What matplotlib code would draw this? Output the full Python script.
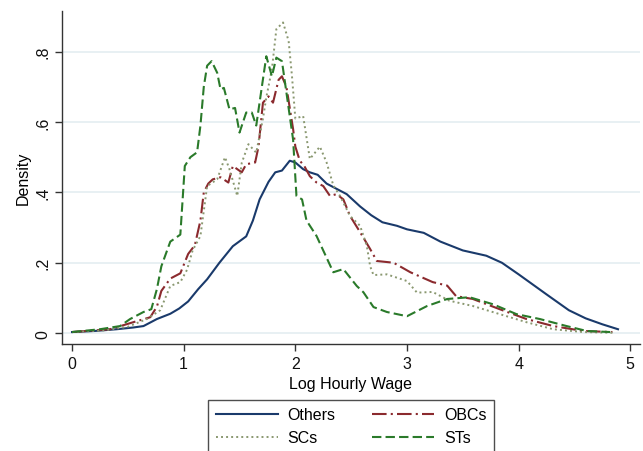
import numpy as np
import matplotlib
matplotlib.use("Agg")
import matplotlib.pyplot as plt

plt.rcParams['font.family'] = ['Liberation Sans', 'DejaVu Sans']

# kernel density curves
others_x = [0, 0.2, 0.4, 0.55, 0.64, 0.76, 0.88, 0.96, 1.04, 1.13, 1.21, 1.32, 1.44, 1.56,
            1.62, 1.68, 1.76, 1.82, 1.88, 1.95, 2.0, 2.07, 2.13, 2.2, 2.28, 2.37, 2.46, 2.58,
            2.68, 2.78, 2.91, 3.0, 3.15, 3.3, 3.5, 3.71, 3.85, 4.0, 4.25, 4.45, 4.6, 4.75, 4.89]
others_y = [0.003, 0.006, 0.011, 0.016, 0.02, 0.04, 0.055, 0.07, 0.09, 0.125, 0.153, 0.20,
            0.247, 0.275, 0.32, 0.38, 0.43, 0.457, 0.462, 0.49, 0.485, 0.466, 0.457, 0.45,
            0.425, 0.41, 0.395, 0.36, 0.335, 0.315, 0.305, 0.295, 0.285, 0.26, 0.235, 0.22,
            0.2, 0.167, 0.11, 0.065, 0.042, 0.025, 0.011]

obcs_x = [0, 0.34, 0.58, 0.7, 0.76, 0.8, 0.88, 0.97, 1.04, 1.1, 1.15, 1.18, 1.22, 1.26, 1.33,
          1.40, 1.44, 1.52, 1.56, 1.64, 1.67, 1.71, 1.76, 1.80, 1.85, 1.88, 1.92, 1.95, 1.98,
          2.0, 2.04, 2.08, 2.13, 2.19, 2.25, 2.31, 2.37, 2.43, 2.49, 2.58, 2.67, 2.73, 2.88,
          3.03, 3.23, 3.36, 3.44, 3.59, 3.83, 4.07, 4.31, 4.58, 4.84]
obcs_y = [0.003, 0.011, 0.034, 0.045, 0.075, 0.12, 0.155, 0.17, 0.225, 0.25, 0.32, 0.40,
          0.425, 0.437, 0.443, 0.428, 0.475, 0.457, 0.48, 0.485, 0.53, 0.655, 0.673, 0.655,
          0.72, 0.73, 0.70, 0.64, 0.58, 0.53, 0.49, 0.475, 0.446, 0.428, 0.418, 0.39, 0.395,
          0.38, 0.333, 0.287, 0.239, 0.205, 0.20, 0.173, 0.145, 0.135, 0.105, 0.097, 0.068,
          0.04, 0.02, 0.006, 0.003]

scs_x = [0, 0.3, 0.5, 0.67, 0.79, 0.88, 0.97, 1.03, 1.08, 1.15, 1.21, 1.30, 1.37, 1.41, 1.48,
         1.52, 1.58, 1.65, 1.71, 1.74, 1.79, 1.83, 1.89, 1.94, 1.97, 2.0, 2.07, 2.13, 2.22,
         2.28, 2.34, 2.40, 2.49, 2.58, 2.64, 2.67, 2.70, 2.82, 3.0, 3.09, 3.23, 3.38, 3.59,
         3.83, 4.07, 4.31, 4.58, 4.84]
scs_y = [0.003, 0.008, 0.018, 0.04, 0.065, 0.134, 0.145, 0.18, 0.235, 0.276, 0.418, 0.437,
         0.50, 0.466, 0.39, 0.484, 0.537, 0.513, 0.61, 0.67, 0.75, 0.864, 0.883, 0.83, 0.73,
         0.61, 0.617, 0.495, 0.53, 0.485, 0.42, 0.39, 0.333, 0.305, 0.248, 0.19, 0.165,
         0.167, 0.148, 0.115, 0.117, 0.092, 0.077, 0.054, 0.031, 0.011, 0.003, 0.001]

sts_x = [0, 0.25, 0.43, 0.52, 0.64, 0.71, 0.76, 0.80, 0.88, 0.97, 1.01, 1.06, 1.12, 1.15,
         1.18, 1.21, 1.25, 1.30, 1.33, 1.36, 1.41, 1.46, 1.50, 1.56, 1.61, 1.65, 1.70, 1.74,
         1.79, 1.83, 1.88, 1.92, 1.98, 2.01, 2.06, 2.10, 2.19, 2.34, 2.43, 2.55, 2.61, 2.70,
         2.82, 3.0, 3.18, 3.36, 3.56, 3.77, 3.98, 4.19, 4.43, 4.61, 4.82]
sts_y = [0.003, 0.011, 0.02, 0.04, 0.06, 0.068, 0.125, 0.19, 0.26, 0.28, 0.475, 0.50, 0.514,
         0.59, 0.70, 0.76, 0.773, 0.74, 0.693, 0.697, 0.636, 0.64, 0.57, 0.627, 0.627, 0.59,
         0.70, 0.787, 0.73, 0.783, 0.773, 0.684, 0.55, 0.39, 0.38, 0.32, 0.276, 0.173, 0.182,
         0.134, 0.116, 0.074, 0.06, 0.048, 0.077, 0.097, 0.102, 0.082, 0.054, 0.04, 0.02,
         0.006, 0.003]

x_ticks = [0, 1, 2, 3, 4, 5]
y_ticks = [0, 0.2, 0.4, 0.6, 0.8]
y_tick_labels = ['0', '.2', '.4', '.6', '.8']

fig = plt.figure(figsize=(6.43, 4.52), dpi=100)
ax = fig.add_axes([0.0964, 0.2367, 0.8986, 0.7363])

ax.plot(others_x, others_y, color='#1a3a6b', lw=1.5, label='Others')
ax.plot(obcs_x, obcs_y, color='#8b2a2e', lw=1.5, ls=(0, (7, 2, 1, 2)), label='OBCs')
ax.plot(scs_x, scs_y, color='#8a9870', lw=1.4, ls=(0, (1, 1.6)), label='SCs')
ax.plot(sts_x, sts_y, color='#2a7a2a', lw=1.5, ls=(0, (4.5, 2)), label='STs')

ax.set_xlim(-0.09, 5.085)
ax.set_ylim(-0.031, 0.915)
ax.set_xticks(x_ticks)
ax.set_yticks(y_ticks)
ax.set_yticklabels(y_tick_labels, rotation=90, va='center')
ax.tick_params(axis='both', direction='out', length=5, width=1, color='#333333',
               labelsize=11.5, labelcolor='#111111')

ax.yaxis.grid(True, color='#e6eff2', lw=1.3)
ax.set_axisbelow(True)
for side in ['top', 'right']:
    ax.spines[side].set_visible(False)
for side in ['left', 'bottom']:
    ax.spines[side].set_color('#333333')
    ax.spines[side].set_linewidth(1.0)

ax.set_xlabel('Log Hourly Wage', fontsize=11.5, labelpad=4)
ax.set_ylabel('Density', fontsize=11.5, labelpad=3)

# legend fills column by column: Others, SCs | OBCs, STs
handles, labels = ax.get_legend_handles_labels()
order = [0, 2, 1, 3]
leg = fig.legend([handles[i] for i in order], [labels[i] for i in order],
                 loc='upper center', bbox_to_anchor=(0.546, 0.13), ncol=2,
                 fontsize=11.5, frameon=True, fancybox=False, edgecolor='#222222',
                 handlelength=3.9, handletextpad=0.6, columnspacing=2.3,
                 labelspacing=0.5, borderpad=0.45)
leg.get_frame().set_linewidth(1.0)

fig.savefig('out.png', dpi=100)
